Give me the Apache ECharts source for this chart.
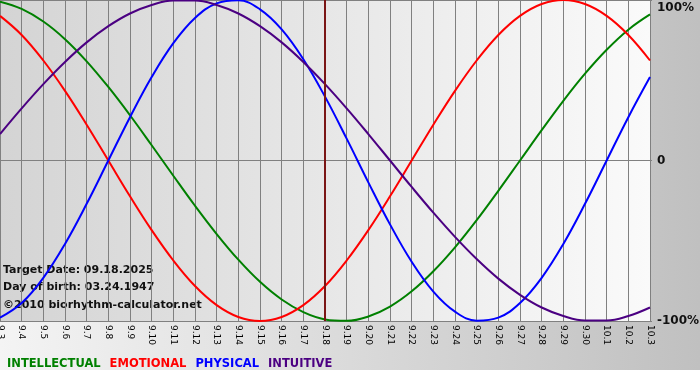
<!DOCTYPE html>
<html>
<head>
<meta charset="utf-8">
<script src="https://cdn.jsdelivr.net/npm/echarts@6/dist/echarts.min.js"></script>
<style>
html,body{margin:0;padding:0;background:#fff;}
#chart{width:700px;height:380px;}
</style>
</head>
<body>
<div id="chart"></div>
<script>
// day labels along the bottom
var days = ['9.3','9.4','9.5','9.6','9.7','9.8','9.9','9.10','9.11','9.12','9.13','9.14','9.15','9.16','9.17','9.18',
	'9.19','9.20','9.21','9.22','9.23','9.24','9.25','9.26','9.27','9.28','9.29','9.30','10.1','10.2','10.3'];

// values in percent
var intellectual = [99.0,94.5,86.6,75.6,61.8,45.8,28.2,9.5,-9.5,-28.2,-45.8,-61.8,-75.6,-86.6,-94.5,-99.0,
	-99.9,-97.2,-91.0,-81.5,-69.0,-54.1,-37.2,-18.9,0,18.9,37.2,54.1,69.0,81.5,91.0];
var emotional = [90.1,78.2,62.3,43.4,22.3,0,-22.3,-43.4,-62.3,-78.2,-90.1,-97.5,-100,-97.5,-90.1,-78.2,
	-62.3,-43.4,-22.3,0,22.3,43.4,62.3,78.2,90.1,97.5,100,97.5,90.1,78.2,62.3];
var physical = [-97.9,-88.8,-73.1,-52.0,-27.0,0,27.0,52.0,73.1,88.8,97.9,99.8,94.2,81.7,63.1,39.8,
	13.6,-13.6,-39.8,-63.1,-81.7,-94.2,-99.8,-97.9,-88.8,-73.1,-52.0,-27.0,0,27.0,52.0];
var intuitive = [16.5,32.5,47.6,61.4,73.6,83.7,91.6,96.9,99.7,99.7,96.9,91.6,83.7,73.6,61.4,47.6,
	32.5,16.5,0,-16.5,-32.5,-47.6,-61.4,-73.6,-83.7,-91.6,-96.9,-99.7,-99.7,-96.9,-91.6];

var targetDay = '9.18';
var infoLines = ['Target Date: 09.18.2025', 'Day of birth: 03.24.1947', '\u00a92010 biorhythm-calculator.net'];

var colors = {
	INTELLECTUAL: '#008000',
	EMOTIONAL: '#ff0000',
	PHYSICAL: '#0000ff',
	INTUITIVE: '#4b0082'
};

var myChart = echarts.init(document.getElementById('chart'));

function curve(name, data){
	return {
		name: name,
		type: 'line',
		smooth: 0.4,
		symbol: 'none',
		data: data,
		lineStyle: { color: colors[name], width: 2 },
		itemStyle: { color: colors[name] },
		z: 3
	};
}

var series = [
	curve('INTELLECTUAL', intellectual),
	curve('EMOTIONAL', emotional),
	curve('PHYSICAL', physical),
	curve('INTUITIVE', intuitive)
];
//目标日竖线
series[0].markLine = {
	silent: true,
	symbol: 'none',
	label: { show: false },
	lineStyle: { color: '#7a1515', width: 2, type: 'solid' },
	data: [{ xAxis: targetDay }]
};

var textFont = 'DejaVu Sans, Verdana, sans-serif';

var option = {
	backgroundColor: '#fff',
	animation: false,
	graphic: [{
		type: 'rect',
		z: -10,
		shape: { x: 0, y: 0, width: 700, height: 370 },
		style: {
			fill: new echarts.graphic.LinearGradient(0, 0, 1, 0, [
				{ offset: 0, color: '#f4f4f4' },
				{ offset: 1, color: '#c0c0c0' }
			])
		}
	}, {
		type: 'group',
		left: 3,
		top: 265,
		z: 10,
		children: [
			{ type: 'text', x: 0, y: 0, style: { text: infoLines[0], font: 'bold 11px ' + textFont, fill: '#111' } },
			{ type: 'text', x: 0, y: 17, style: { text: infoLines[1], font: 'bold 11px ' + textFont, fill: '#111' } },
			{ type: 'text', x: 0, y: 35, style: { text: infoLines[2], font: 'bold 11px ' + textFont, fill: '#111' } }
		]
	}],
	legend: {
		left: -3,
		top: 353,
		icon: 'none',
		itemWidth: 0,
		itemHeight: 0,
		itemGap: 4,
		selectedMode: false,
		textStyle: { fontFamily: textFont, fontWeight: 'bold', fontSize: 11.5 },
		data: [
			{ name: 'INTELLECTUAL', textStyle: { color: colors.INTELLECTUAL } },
			{ name: 'EMOTIONAL', textStyle: { color: colors.EMOTIONAL } },
			{ name: 'PHYSICAL', textStyle: { color: colors.PHYSICAL } },
			{ name: 'INTUITIVE', textStyle: { color: colors.INTUITIVE } }
		]
	},
	grid: {
		left: 0,
		right: 50,
		top: 0,
		bottom: 59,
		outerBoundsMode: 'none',
		containLabel: false,
		show: true,
		borderWidth: 0,
		backgroundColor: new echarts.graphic.LinearGradient(0, 0, 1, 0, [
			{ offset: 0, color: '#d4d4d4' },
			{ offset: 1, color: '#fafafa' }
		])
	},
	xAxis: {
		type: 'category',
		boundaryGap: false,
		data: days,
		axisLine: { show: true, lineStyle: { color: '#808080', width: 1 } },
		axisTick: { show: true, interval: 0, length: 3, lineStyle: { color: '#808080' } },
		splitLine: { show: true, interval: 0, lineStyle: { color: '#808080', width: 1 } },
		axisLabel: {
			interval: 0,
			rotate: -90,
			margin: 4,
			color: '#000',
			fontFamily: textFont,
			fontSize: 9
		}
	},
	yAxis: {
		type: 'value',
		position: 'right',
		min: -100,
		max: 100,
		interval: 100,
		axisLine: { show: false },
		axisTick: { show: true, length: 2, lineStyle: { color: '#808080' } },
		splitLine: { show: true, lineStyle: { color: '#808080', width: 1 } },
		axisLabel: {
			margin: 7,
			color: '#111',
			fontFamily: textFont,
			fontWeight: 'bold',
			fontSize: 12,
			lineHeight: 15,
			verticalAlignMaxLabel: 'top',
			formatter: function(v){ return v === 0 ? '0' : v + '%'; }
		}
	},
	series: series
};
myChart.setOption(option);
</script>
</body>
</html>
